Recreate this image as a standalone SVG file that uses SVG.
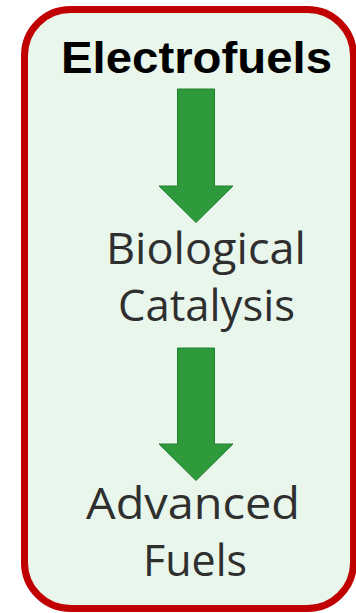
<svg xmlns="http://www.w3.org/2000/svg" width="356" height="613" viewBox="0 0 356 613">
<style>
.lbl{font-family:"Open Sans","DejaVu Sans",sans-serif;font-size:43px;fill:#2f2f2f}
.arrow{fill:#2e9a3c;stroke:#23802e;stroke-width:1}
</style>
<rect width="356" height="613" fill="#ffffff"/>
<g id="frame">
<rect x="24.5" y="9.5" width="329" height="599" rx="46" ry="46" fill="#e9f6ec" stroke="#c00000" stroke-width="7"/>
</g>
<g id="electrofuels">
<text x="61" y="73" font-family="Liberation Sans, Arial, sans-serif" font-weight="bold" font-size="44" fill="#000" textLength="271" lengthAdjust="spacingAndGlyphs">Electrofuels</text>
</g>
<g id="biological-catalysis">
<text class="lbl" x="106" y="264" textLength="200" lengthAdjust="spacingAndGlyphs">Biological</text>
<text class="lbl" x="118" y="321" textLength="177" lengthAdjust="spacingAndGlyphs">Catalysis</text>
</g>
<g id="advanced-fuels">
<text class="lbl" x="86" y="519" textLength="214" lengthAdjust="spacingAndGlyphs">Advanced</text>
<text class="lbl" x="143" y="576" textLength="104" lengthAdjust="spacingAndGlyphs">Fuels</text>
</g>
<g id="connectors">
<polygon class="arrow" points="177.5,89 214.5,89 214.5,186 233,186 196,222.5 159,186 177.5,186"/>
<polygon class="arrow" points="177.5,348 214.5,348 214.5,444 233,444 196,480.5 159,444 177.5,444"/>
</g>
</svg>
